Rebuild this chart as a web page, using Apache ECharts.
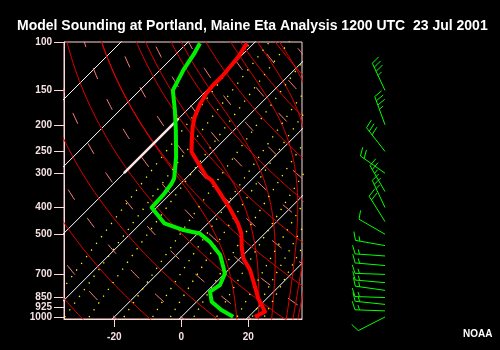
<!DOCTYPE html>
<html>
<head>
<meta charset="utf-8">
<script src="https://cdn.jsdelivr.net/npm/echarts@6/dist/echarts.min.js"></script>
<style>
  html, body { margin: 0; padding: 0; background: #000; }
  #chart { width: 500px; height: 350px; }
</style>
</head>
<body>
<div id="chart"></div>
<script>
// ---- Sounding data (pressure in hPa, temperatures in °C) ----
const tempPressure = [101, 113, 123, 134, 143, 154, 170, 187, 203, 227, 251, 276, 309, 318, 355, 403, 457, 497, 556, 612, 675, 777, 856, 957, 998];
const temperature  = [-62.1, -60.6, -60.1, -59.6, -59.7, -59.2, -57.7, -55.7, -53.4, -49.7, -46.2, -40.8, -34.3, -31.8, -25.3, -17.9, -11.0, -7.0, -2.9, 1.0, 6.5, 13.0, 17.4, 23.4, 21.9];

const dewPressure  = [101, 111, 126, 150, 177, 209, 261, 313, 327, 360, 400, 457, 483, 497, 533, 595, 694, 765, 809, 880, 944, 998];
const dewpoint     = [-76.1, -74.6, -73.1, -70.1, -63.6, -57.4, -49.4, -43.5, -42.7, -41.8, -41.5, -32.9, -25.3, -19.4, -13.9, -6.9, 0.0, 2.0, 1.0, 4.5, 9.9, 15.4];

// Wind profile: direction the wind blows from (deg) and speed (kt)
const windPressure = [150, 200, 250, 300, 350, 400, 450, 500, 550, 600, 650, 700, 750, 800, 850, 900, 950, 1000];
const windDir      = [335, 340, 322, 305, 330, 335, 328, 300, 280, 274, 275, 272, 275, 278, 272, 276, 272, 243];
const windSpeed    = [35, 35, 30, 20, 25, 25, 20, 10, 15, 15, 15, 15, 15, 15, 15, 15, 15, 10];

// ---- Diagram background lines ----
const isotherms        = [-120, -100, -80, -60, -40, -20, 0, 20, 40];
const dryAdiabatsSolid = [-30, -10, 10, 30, 50, 70, 90, 110, 130, 150, 170];      // θ in °C
const dryAdiabatsDash  = [-20, 0, 20, 40, 60, 80, 100, 120, 140, 160];           // θ in °C
const moistAdiabats    = [16.5, 23, 27, 31.4, 33.4, 34.9];                         // 1000 hPa temperature, °C
const mixingRatios     = [0.1, 0.2, 0.4, 1, 2, 3, 5, 8, 12, 16, 20];               // g/kg
const boldIsotherm     = -60;
const boldIsothermSpan = [300, 190];

// ---- Axis ticks ----
const pressureTicks = [100, 150, 200, 250, 300, 400, 500, 700, 850, 925, 1000];
const tempTicks     = [-20, 0, 20];

// skew-T transform: isotherms lean 45° in this plot box
const SKEW = 35.62;
const P_TOP = 100, P_BOT = 1017;
const T_MIN = -35, T_MAX = 36;
const skewX = (t, p) => t + SKEW * Math.log(1000 / p);

// pressure samples used for curved reference lines
const samples = [];
for (let lp = Math.log(1060); lp >= Math.log(98); lp -= 0.02) samples.push(Math.exp(lp));

function dryLine(thetaC) {
  const th = thetaC + 273.15;
  return samples.map(p => [skewX(th * Math.pow(p / 1000, 0.2857) - 273.15, p), Math.log(p)]);
}

function satMix(Tk, p) {
  const tc = Tk - 273.15;
  const es = 6.112 * Math.exp(17.67 * tc / (tc + 243.5));
  return 0.622 * es / (p - es);
}
function moistRate(Tk, p) {
  const rs = satMix(Tk, p);
  return (287.04 * Tk + 2.501e6 * rs) / (1005.7 + 2.501e6 * 2.501e6 * rs * 0.622 / (287.04 * Tk * Tk));
}
function moistLine(t1000) {
  const h = 0.01;
  const walk = (dir, lpEnd) => {
    let T = t1000 + 273.15, lp = Math.log(1000);
    const pts = [];
    let k = 0;
    while ((dir < 0 && lp > lpEnd) || (dir > 0 && lp < lpEnd)) {
      const d = dir * h;
      const k1 = moistRate(T, Math.exp(lp));
      const k2 = moistRate(T + k1 * d / 2, Math.exp(lp + d / 2));
      T += k2 * d; lp += d; k++;
      if (k % 2 === 0) pts.push([skewX(T - 273.15, Math.exp(lp)), lp]);
    }
    return pts;
  };
  const down = walk(1, Math.log(1060)).reverse();
  const up = walk(-1, Math.log(98));
  return down.concat([[skewX(t1000, 1000), Math.log(1000)]], up);
}

function mixLine(w) {
  const r = w / 1000;
  return samples.map(p => {
    const es = r * p / (0.622 + r);
    const x = Math.log(es / 6.112);
    const tc = 243.5 * x / (17.67 - x);
    return [skewX(tc, p), Math.log(p)];
  });
}

function line(data, color, width, type, z) {
  return {
    type: 'line', data, xAxisIndex: 0, yAxisIndex: 0,
    symbol: 'none', silent: true, animation: false, z: z || 1,
    lineStyle: { color, width, type: type || 'solid', cap: 'butt', join: 'round' }
  };
}

const labelColor = '#f6e2e2';
const frameColor = '#ffd8d8';
const labelFont = 'bold 10px "Liberation Sans", Arial, sans-serif';

const series = [];
isotherms.forEach(t => series.push(line([[skewX(t, 1060), Math.log(1060)], [skewX(t, 98), Math.log(98)]], '#ffffff', 1)));
series.push(line([[skewX(boldIsotherm, boldIsothermSpan[0]), Math.log(boldIsothermSpan[0])],
                  [skewX(boldIsotherm, boldIsothermSpan[1]), Math.log(boldIsothermSpan[1])]], '#ffe6e6', 2.5, 'solid', 2));
dryAdiabatsDash.forEach(t => series.push(line(dryLine(t), '#ff8080', 1, [12, 22])));
dryAdiabatsSolid.forEach(t => series.push(line(dryLine(t), '#e00000', 1)));
moistAdiabats.forEach(t => series.push(line(moistLine(t), '#e00000', 1)));
mixingRatios.forEach(w => series.push(line(mixLine(w), '#ffff00', 1.3, [1.3, 7])));

series.push(line(dewPressure.map((p, i) => [skewX(dewpoint[i], p), Math.log(p)]), '#00f000', 4, 'solid', 5));
series.push(line(tempPressure.map((p, i) => [skewX(temperature[i], p), Math.log(p)]), '#ff0000', 4, 'solid', 6));

// pressure labels beside the left axis
series.push({
  type: 'custom', xAxisIndex: 0, yAxisIndex: 0, clip: false, silent: true, animation: false, z: 7,
  data: pressureTicks.map(p => [T_MIN, Math.log(p), p]),
  renderItem(params, api) {
    const pt = api.coord([api.value(0), api.value(1)]);
    return {
      type: 'text', x: pt[0] - 12, y: pt[1],
      style: { text: String(api.value(2)), fill: labelColor, font: labelFont, textAlign: 'right', textVerticalAlign: 'middle' }
    };
  }
});

// wind barbs, drawn in their own column on the right
series.push({
  type: 'custom', xAxisIndex: 1, yAxisIndex: 1, clip: false, silent: true, animation: false, z: 5,
  data: windPressure.map((p, i) => [1, Math.log(p), windDir[i], windSpeed[i]]),
  renderItem(params, api) {
    const base = api.coord([api.value(0), api.value(1)]);
    const ang = api.value(2) * Math.PI / 180;
    const dx = Math.sin(ang), dy = -Math.cos(ang);
    const L = 30, FULL = 9, HALF = 5, GAP = 4.5;
    const tip = [base[0] + dx * L, base[1] + dy * L];
    const px = -dy, py = dx;
    const a = 20 * Math.PI / 180;
    const fx = px * Math.cos(a) + dx * Math.sin(a);
    const fy = py * Math.cos(a) + dy * Math.sin(a);
    const st = { stroke: '#00ff00', lineWidth: 1 };
    const kids = [{ type: 'line', shape: { x1: base[0], y1: base[1], x2: tip[0], y2: tip[1] }, style: st }];
    let s = Math.round(api.value(3) / 5) * 5;
    let pos = 0;
    while (s >= 10) {
      const sx = tip[0] - dx * pos, sy = tip[1] - dy * pos;
      kids.push({ type: 'line', shape: { x1: sx, y1: sy, x2: sx + fx * FULL, y2: sy + fy * FULL }, style: st });
      pos += GAP; s -= 10;
    }
    if (s >= 5) {
      if (pos === 0) pos = GAP;
      const sx = tip[0] - dx * pos, sy = tip[1] - dy * pos;
      kids.push({ type: 'line', shape: { x1: sx, y1: sy, x2: sx + fx * HALF, y2: sy + fy * HALF }, style: st });
    }
    return { type: 'group', children: kids };
  }
});

const chart = echarts.init(document.getElementById('chart'), null, { renderer: 'canvas' });
chart.setOption({
  backgroundColor: '#000000',
  animation: false,
  title: {
    text: 'Model Sounding at Portland, Maine Eta Analysis 1200 UTC  23 Jul 2001',
    left: 12, top: 14,
    textStyle: { color: '#ffffff', fontSize: 14, fontWeight: 'bold', fontFamily: 'Liberation Sans, Arial, sans-serif' }
  },
  graphic: [{
    type: 'text', left: 463, top: 329,
    style: { text: 'NOAA', fill: '#ffffff', font: 'bold 10px "Liberation Sans", Arial, sans-serif' }
  }],
  grid: [
    { left: 64, top: 42, width: 238, height: 277, show: true, borderColor: frameColor, borderWidth: 1, backgroundColor: 'transparent' },
    { left: 345, top: 42, width: 40, height: 277, show: false }
  ],
  xAxis: [{
    type: 'value', gridIndex: 0, min: T_MIN, max: T_MAX,
    axisLine: { show: true, onZero: false, lineStyle: { color: frameColor, width: 1 } },
    axisTick: { show: true, length: 8, customValues: tempTicks, lineStyle: { color: frameColor, width: 1 } },
    axisLabel: { customValues: tempTicks, color: labelColor, fontSize: 10, fontWeight: 'bold', margin: 13,
                 fontFamily: 'Liberation Sans, Arial, sans-serif' },
    splitLine: { show: false }
  }, {
    type: 'value', gridIndex: 1, min: 0, max: 1, show: false
  }],
  yAxis: [{
    type: 'value', gridIndex: 0, inverse: true, min: Math.log(P_TOP), max: Math.log(P_BOT),
    axisLine: { show: true, onZero: false, lineStyle: { color: frameColor, width: 1 } },
    axisTick: { show: true, length: 10, customValues: pressureTicks.map(Math.log), lineStyle: { color: frameColor, width: 1 } },
    axisLabel: { show: false },
    splitLine: { show: false }
  }, {
    type: 'value', gridIndex: 1, inverse: true, min: Math.log(P_TOP), max: Math.log(P_BOT), show: false
  }],
  series
});
</script>
</body>
</html>
